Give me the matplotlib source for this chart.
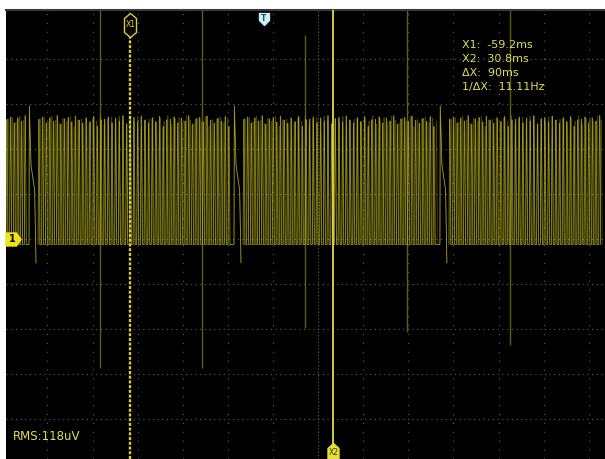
"""Scope capture: channel 1 burst signal with two time cursors."""

import numpy as np
import matplotlib
matplotlib.use("Agg")
import matplotlib.pyplot as plt
from matplotlib.path import Path
from matplotlib import transforms

plt.rcParams.update({
    "font.family": ["DejaVu Sans"],
    "lines.scale_dashes": False,
})

# Time base (ms) and vertical scale (divisions, ground = 0)
X_RANGE = (-114.4, 151.2)
Y_RANGE = (-4.89, 5.09)
GRID_X = [-96, -76, -56, -36, -16, 4, 24, 44, 64, 84, 104, 124, 144]
GRID_Y = [-4, -3, -2, -1, 0, 1, 2, 3, 4]
CENTER_X = 24
TRIGGER_MS = 0.0

# Cursors
X1_MS = -59.2
X2_MS = 30.8
RMS_TEXT = "RMS:118uV"

# Burst signal: tall spike at the start of each gap, then burst resumes
SPIKE_MS = [-104.2, -13.3, 78.0]
CARRIER_MS = [1.62, 1.66]          # two overlapping sweeps (persistence)
SWEEP_PHASE = [0.0, 0.7]
SWEEP_ALPHA = [0.78, 0.35]
PULSE_EDGES = [0.0, 0.32, 0.5, 0.9]   # rise start, top, fall start, base
BASE_LEVEL = -0.12
TOP_LEVELS = [2.66, 2.71, 2.58, 2.69, 2.62, 2.74, 2.55, 2.67,
              2.70, 2.60, 2.73, 2.64, 2.57, 2.68, 2.61, 2.72, 2.50, 2.65]
SPIKE_TOP = 2.96
DIAG_LEVELS = [1.64, 1.09]
DIP_LEVEL = -0.53

# Dim glitch lines between bursts
GLITCH_MS = [-72.7, -27.5, 18.2, 63.4, 109.1]
GLITCH_TOP = [5.1, 5.1, 4.53, 5.1, 5.1]
GLITCH_BOTTOM = [-2.87, -2.87, -1.98, -2.07, -2.36]

YELLOW = "#d8d03a"
TRACE = "#c2ba22"


def burst(t0, t1, period, offset, xs, ys):
    k = offset
    t = t0
    while t + period < t1:
        top = TOP_LEVELS[k % len(TOP_LEVELS)]
        xs += [t + e for e in PULSE_EDGES]
        ys += [BASE_LEVEL, top, top, BASE_LEVEL]
        t += period
        k += 1


def build_trace(period, phase, offset):
    xs, ys = [], []
    starts = [X_RANGE[0] + phase] + [s + 4.0 + phase for s in SPIKE_MS]
    ends = SPIKE_MS + [X_RANGE[1]]
    for i, (a, b) in enumerate(zip(starts, ends)):
        burst(a, b, period, offset, xs, ys)
        if i < len(SPIKE_MS):
            s = SPIKE_MS[i]
            xs += [s, s + 0.15, s + 0.9, s + 2.5, s + 3.1, np.nan]
            ys += [BASE_LEVEL, SPIKE_TOP, DIAG_LEVELS[0], DIAG_LEVELS[1],
                   DIP_LEVEL, np.nan]
    return np.array(xs), np.array(ys)


def marker_path(verts):
    verts = list(verts) + [verts[0]]
    codes = [Path.MOVETO] + [Path.LINETO] * (len(verts) - 2) + [Path.CLOSEPOLY]
    return Path(verts, codes)


W, H = 605, 459
fig = plt.figure(figsize=(W / 100, H / 100), dpi=100, facecolor="white")
ax = fig.add_axes([6 / W, 0, 599 / W, 449 / H])
ax.set_facecolor("black")
ax.set_xlim(*X_RANGE)
ax.set_ylim(*Y_RANGE)
ax.set_xticks([])
ax.set_yticks([])
for name, sp in ax.spines.items():
    sp.set_visible(name == "top")
ax.spines["top"].set_color("#3a3a3a")
ax.spines["top"].set_linewidth(1.5)

# Graticule
for gx in GRID_X:
    dash = (0.8, 1.6) if gx == CENTER_X else (0.8, 5.6)
    ax.axvline(gx, color="#5e5e5e", lw=0.8, dashes=dash, zorder=1)
for gy in GRID_Y:
    ax.axhline(gy, color="#5e5e5e", lw=0.8, dashes=(0.8, 2.6), zorder=1)

# Glitches
ax.vlines(GLITCH_MS, GLITCH_BOTTOM, GLITCH_TOP, color="#605c1c", lw=1.0, zorder=2)

# Trace, two overlapping sweeps
for i, (period, phase, alpha) in enumerate(zip(CARRIER_MS, SWEEP_PHASE, SWEEP_ALPHA)):
    tx, ty = build_trace(period, phase, i * 7)
    ax.plot(tx, ty, color=TRACE, lw=0.55, alpha=alpha, zorder=3)

# Cursors
top_tf = transforms.blended_transform_factory(ax.transData, ax.transAxes)
ax.plot([X1_MS, X1_MS], [0, 0.95], transform=top_tf, color=YELLOW, lw=1.7,
        dashes=(2.2, 1.2), zorder=4)
ax.plot([X2_MS, X2_MS], [0.03, 1], transform=top_tf, color="#e4da48", lw=1.3,
        zorder=4)

hexagon = marker_path([(0, 12), (6, 7), (6, -7), (0, -12), (-6, -7), (-6, 7)])
ax.plot([X1_MS], [0.9666], marker=hexagon, ms=17.3, mfc="black", mec=YELLOW,
        mew=1.0, transform=top_tf, clip_on=False, zorder=5)
ax.text(X1_MS, 0.9666, "X1", transform=top_tf, ha="center", va="center",
        fontsize=5.5, color=YELLOW, zorder=6)

tri_down = marker_path([(-5, 6), (5, 6), (5, -1), (0, -6), (-5, -1)])
ax.plot([TRIGGER_MS], [0.98], marker=tri_down, ms=8.6, mfc="#cdeef4",
        mec="#cdeef4", transform=top_tf, clip_on=False, zorder=5)
ax.text(TRIGGER_MS, 0.982, "T", transform=top_tf, ha="center", va="center",
        fontsize=5.5, fontweight="bold", color="#24505e", zorder=6)

tri_up = marker_path([(-5.5, -8), (5.5, -8), (5.5, 3), (0, 8), (-5.5, 3)])
ax.plot([X2_MS], [0.0178], marker=tri_up, ms=11.5, mfc="#e8df36",
        mec="#e8df36", transform=top_tf, clip_on=False, zorder=5)
ax.text(X2_MS, 0.014, "X2", transform=top_tf, ha="center", va="center",
        fontsize=5.5, color="#3a3600", zorder=6)

# Channel 1 ground marker
left_tf = transforms.blended_transform_factory(ax.transAxes, ax.transData)
ch_arrow = marker_path([(-7.5, 6.5), (3, 6.5), (7.5, 0), (3, -6.5), (-7.5, -6.5)])
ax.plot([0.0125], [0], marker=ch_arrow, ms=10.8, mfc="#f0e418", mec="#f0e418",
        transform=left_tf, clip_on=False, zorder=5)
ax.text(0.011, 0, "1", transform=left_tf, ha="center", va="center",
        fontsize=7, fontweight="bold", color="black", zorder=6)

# Cursor readout
dx = X2_MS - X1_MS
readout = [
    f"X1:  {X1_MS:.1f}ms",
    f"X2:  {X2_MS:.1f}ms",
    f"\u0394X:  {dx:.0f}ms",
    f"1/\u0394X:  {1000 / dx:.2f}Hz",
]
for i, line in enumerate(readout):
    fig.text(462 / W, 1 - (45 + 14 * i) / H, line, ha="left", va="center",
             fontsize=8, color="#e0df55")

fig.text(13 / W, 1 - 436 / H, RMS_TEXT, ha="left", va="center",
         fontsize=8.5, color="#e0df55")

fig.savefig("out.png", dpi=100, facecolor="white")
